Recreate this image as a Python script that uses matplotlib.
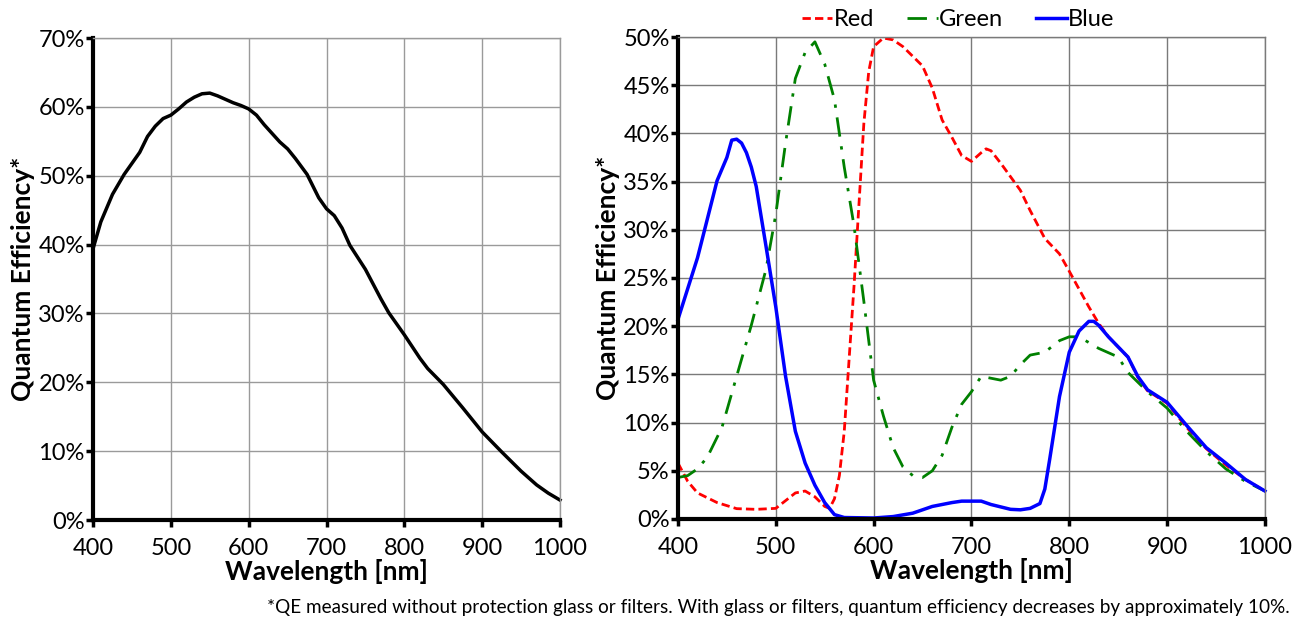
import numpy as np
import matplotlib.pyplot as plt
from matplotlib.ticker import PercentFormatter

plt.rcParams['font.family'] = ['Lato', 'DejaVu Sans']

# mono sensor QE
mono_wl = [400, 410, 425, 440, 460, 470, 480, 490, 500, 510, 520, 530, 540, 550,
           560, 570, 580, 590, 600, 610, 620, 640, 650, 660, 675, 690, 700, 710,
           720, 730, 750, 770, 780, 800, 820, 830, 850, 875, 900, 925, 950, 970,
           985, 1000]
mono_qe = [39.4, 43.3, 47.3, 50.2, 53.4, 55.7, 57.2, 58.3, 58.8, 59.7, 60.7, 61.4,
           61.9, 62.0, 61.6, 61.1, 60.6, 60.2, 59.7, 58.8, 57.4, 54.9, 53.9, 52.5,
           50.2, 46.8, 45.2, 44.2, 42.4, 39.9, 36.4, 32.1, 30.1, 26.9, 23.5, 22.0,
           19.7, 16.3, 12.8, 9.9, 7.1, 5.1, 3.9, 2.9]

# color sensor QE
blue_wl = [400, 420, 440, 450, 455, 460, 465, 470, 475, 480, 490, 500, 510, 520,
           530, 540, 550, 560, 570, 600, 620, 640, 660, 680, 690, 710, 720, 740,
           750, 760, 770, 775, 780, 790, 800, 810, 820, 825, 830, 840, 860, 870,
           880, 900, 920, 940, 960, 980, 1000]
blue_qe = [20.7, 27.1, 35.1, 37.5, 39.3, 39.4, 39.0, 38.0, 36.5, 34.5, 28.3, 22.0,
           14.8, 9.1, 5.8, 3.5, 1.7, 0.45, 0.15, 0.1, 0.25, 0.6, 1.3, 1.7, 1.85,
           1.85, 1.5, 1.0, 0.95, 1.1, 1.6, 3.1, 6.2, 12.7, 17.3, 19.5, 20.5, 20.5,
           20.1, 18.9, 16.8, 14.8, 13.4, 12.1, 9.7, 7.4, 5.8, 4.1, 2.9]

red_wl = [400, 410, 420, 440, 460, 480, 500, 510, 520, 530, 540, 550, 555, 560,
          565, 570, 580, 590, 595, 600, 610, 620, 630, 640, 650, 660, 670, 680,
          690, 700, 710, 715, 720, 730, 750, 760, 775, 790, 800, 820, 830, 840,
          860, 870, 880, 900, 920, 940, 960, 980, 1000]
red_qe = [5.8, 3.9, 2.7, 1.7, 1.07, 1.0, 1.1, 1.9, 2.7, 2.9, 2.3, 1.3, 1.1, 2.1,
          4.5, 9.1, 24.2, 41.0, 46.4, 49.0, 49.9, 49.7, 49.0, 48.0, 47.0, 44.7,
          41.4, 39.6, 37.7, 37.1, 38.0, 38.4, 38.2, 36.9, 34.1, 32.0, 29.1, 27.5,
          25.7, 22.0, 20.3, 18.9, 16.8, 14.7, 13.3, 12.0, 9.5, 7.3, 5.6, 4.1, 2.9]

green_wl = [400, 410, 420, 430, 445, 460, 475, 490, 500, 510, 520, 530, 540, 550,
            560, 570, 580, 590, 600, 610, 620, 630, 640, 650, 660, 670, 680, 690,
            700, 710, 720, 730, 740, 750, 760, 775, 790, 800, 810, 830, 850, 860,
            880, 900, 920, 940, 960, 980, 1000]
green_qe = [4.3, 4.5, 5.2, 6.4, 9.5, 14.8, 20.1, 25.9, 31.6, 39.0, 45.7, 48.4, 49.5,
            47.2, 43.5, 36.5, 30.4, 22.6, 14.4, 10.7, 7.4, 5.4, 4.5, 4.3, 5.0, 6.6,
            9.5, 11.9, 13.2, 14.8, 14.6, 14.4, 14.8, 16.0, 17.0, 17.3, 18.5, 18.9,
            18.9, 17.7, 16.8, 15.2, 13.2, 11.5, 9.1, 7.0, 5.2, 3.9, 2.9]

x_ticks = [400, 500, 600, 700, 800, 900, 1000]

fig = plt.figure(figsize=(13.05, 6.21), dpi=100)
ax1 = fig.add_axes([0.0713, 0.1626, 0.3578, 0.7762])
ax2 = fig.add_axes([0.5195, 0.1643, 0.4498, 0.7761])


def style_axes(ax, ymax, ystep, grid_color):
    ax.set_xlim(400, 1000)
    ax.set_ylim(0, ymax)
    ax.set_xticks(x_ticks)
    ax.set_yticks(np.arange(0, ymax + 0.1, ystep))
    ax.yaxis.set_major_formatter(PercentFormatter(decimals=0))
    ax.grid(True, color=grid_color, linewidth=1.0)
    ax.set_axisbelow(True)
    for s in ['top', 'right']:
        ax.spines[s].set_color(grid_color)
        ax.spines[s].set_linewidth(1.0)
    for s in ['left', 'bottom']:
        ax.spines[s].set_color('black')
        ax.spines[s].set_linewidth(3)
    ax.tick_params(direction='out', length=5, width=2.5, labelsize=17, pad=1)
    ax.tick_params(axis='x', pad=8)
    ax.set_xlabel('Wavelength [nm]', fontsize=19, fontweight='bold', labelpad=0)
    ax.set_ylabel('Quantum Efficiency*', fontsize=19, fontweight='bold', labelpad=2)


ax1.plot(mono_wl, mono_qe, color='black', linewidth=2.5, clip_on=False)
style_axes(ax1, 70, 10, '#9a9a9a')

ax2.plot(red_wl, red_qe, color='#ff0000', linewidth=2, linestyle=(0, (3, 1.5)),
         label='Red', clip_on=False)
ax2.plot(green_wl, green_qe, color='#008000', linewidth=2,
         linestyle=(0, (7, 3.5, 1.2, 3.5)), label='Green', clip_on=False)
ax2.plot(blue_wl, blue_qe, color='#0000ff', linewidth=2.5, label='Blue', clip_on=False)
style_axes(ax2, 50, 5, '#7a7a7a')

ax2.legend(loc='lower center', bbox_to_anchor=(0.477, 1.015), ncol=3, frameon=False,
           fontsize=17, handlelength=1.3, handletextpad=0.05, columnspacing=1.4,
           borderpad=0, borderaxespad=0)

fig.text(0.988, 0.008, '*QE measured without protection glass or filters. With glass or '
         'filters, quantum efficiency decreases by approximately 10%.',
         ha='right', va='bottom', fontsize=13.6)

fig.savefig('out.png', dpi=100)
